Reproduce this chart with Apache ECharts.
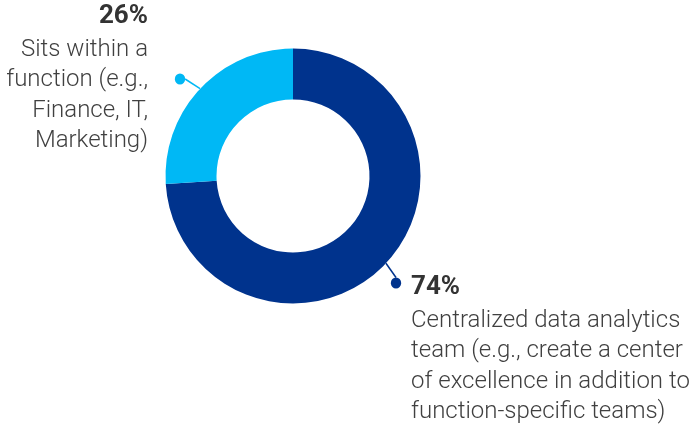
<!DOCTYPE html>
<html>
<head>
<meta charset="utf-8">
<script src="https://cdn.jsdelivr.net/npm/echarts@6/dist/echarts.min.js"></script>
<style>html,body{margin:0;padding:0;background:#fff}#c{width:699px;height:426px}</style>
</head>
<body>
<div id="c"></div>
<script>
const categories = ['Centralized data analytics team', 'Sits within a function'];
const values = [74, 26];
const pctLabels = ['74%', '26%'];
const descLines = [
  ['Centralized data analytics', 'team (e.g., create a center', 'of excellence in addition to', 'function-specific teams)'],
  ['Sits within a', 'function (e.g.,', 'Finance, IT,', 'Marketing)']
];
const colors = ['#00338D', '#00B8F5'];

const chart = echarts.init(document.getElementById('c'), null, {renderer: 'canvas'});
const center = [293, 176];
const radius = [76.5, 127.5];

const ringData = categories.map((name, i) => ({
  name, value: values[i],
  itemStyle: {color: colors[i]},
  labelLine: {lineStyle: {color: colors[i]}},
  label: {backgroundColor: colors[i]}
}));
const textData = categories.map((name, i) => ({name, value: values[i]}));

chart.setOption({
  animation: false,
  series: [
    {
      type: 'pie', center, radius, startAngle: 90, clockwise: true,
      silent: true,
      itemStyle: {borderWidth: 0},
      label: {
        show: true, position: 'outside', formatter: ' ', overflow: 'none',
        distanceToLabelLine: 0,
        fontSize: 1, lineHeight: 1, padding: [5, 5, 5, 5], borderRadius: 6
      },
      labelLine: {show: true, length: 17, length2: 0, lineStyle: {width: 1.5}},
      labelLayout: p => p.dataIndex === 0
        ? {x: 396, y: 283, align: 'center', verticalAlign: 'middle'}
        : {x: 180, y: 79, align: 'center', verticalAlign: 'middle'},
      data: ringData
    },
    {
      type: 'pie', center, radius, startAngle: 90, clockwise: true,
      silent: true,
      itemStyle: {color: 'rgba(0,0,0,0)'},
      labelLine: {show: false},
      label: {
        show: true, position: 'outside', overflow: 'none',
        formatter: p => '{p|' + pctLabels[p.dataIndex] + '}\n{t|' + descLines[p.dataIndex].join('\n') + '}',
        rich: {
          p: {fontFamily: 'Roboto', fontWeight: 'bold', fontSize: 26, lineHeight: 38, color: '#333333'},
          t: {fontFamily: 'Roboto', fontWeight: 300, fontSize: 24, lineHeight: 30.3, color: '#404040'}
        }
      },
      labelLayout: p => p.dataIndex === 0
        ? {x: 411, y: 268, align: 'left', verticalAlign: 'top'}
        : {x: 148, y: -3, align: 'right', verticalAlign: 'top'},
      data: textData
    }
  ]
});
</script>
</body>
</html>
